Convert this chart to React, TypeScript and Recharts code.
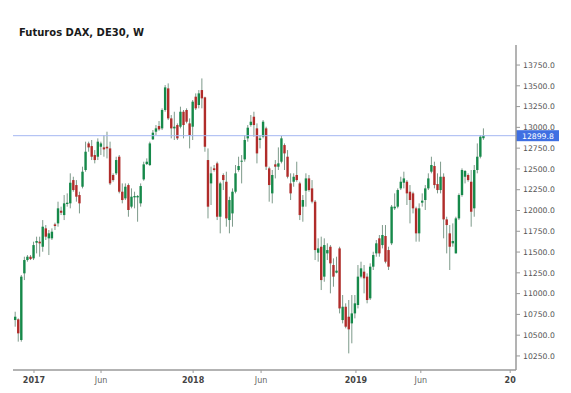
import React from 'react';
import { ComposedChart, Bar, XAxis, YAxis, ReferenceLine } from 'recharts';

// Weekly DAX futures candles (week 1 = mid-Nov 2016)
const opens = [
  10682, 10690, 10442, 11244, 11404, 11444, 11424, 11612, 11625, 11564,
  11785, 11665, 11665, 11833, 11845, 11997, 11945, 12078, 12086, 12366,
  12306, 12186, 12286, 12487, 12807, 12775, 12667, 12647, 12767, 12759,
  12767, 12747, 12427, 12447, 12647, 12226, 12146, 12306, 12046, 12158,
  12158, 12086, 12374, 12559, 12547, 12856, 12948, 13016, 12988, 13209,
  13469, 13108, 12988, 13028, 13008, 13188, 13209, 13048, 13008, 13369,
  13269, 13449, 13361, 12607, 12326, 12507, 12567, 11925, 12427, 12346,
  11885, 11965, 12226, 12487, 12587, 12615, 12868, 13028, 13128, 12988,
  12848, 12888, 12988, 12507, 12206, 12555, 12527, 12587, 12787, 12647,
  12326, 12346, 12427, 12326, 12046, 12238, 12386, 12266, 12106, 11492,
  11564, 11204, 11484, 11564, 11344, 11252, 11544, 10682, 10842, 10722,
  10642, 10762, 10863, 11204, 11264, 11204, 10943, 11324, 11484, 11665,
  11584, 11693, 11524, 11605, 12026, 12046, 12266, 12334, 12346, 12226,
  12206, 12026, 11725, 12094, 12126, 12266, 12467, 12535, 12318, 12246,
  12406, 11893, 11725, 11605, 11484, 11905, 12186, 12406, 12427, 12346,
  12026, 12487, 12647, 12870,
];
const highs = [
  10782, 10702, 11224, 11444, 11464, 11464, 11625, 11685, 11685, 11885,
  11825, 11765, 11785, 11853, 12106, 12046, 12186, 12206, 12447, 12406,
  12366, 12226, 12527, 12828, 12828, 12848, 12727, 12868, 12828, 12908,
  12948, 12828, 12447, 12647, 12667, 12326, 12326, 12326, 12266, 12226,
  12186, 12326, 12587, 12627, 12828, 12968, 13028, 13076, 13229, 13509,
  13529, 13148, 13188, 13048, 13249, 13209, 13229, 13108, 13329, 13409,
  13449, 13589, 13369, 12747, 12527, 12547, 12587, 12346, 12447, 12467,
  12166, 12266, 12547, 12647, 12667, 12908, 13028, 13148, 13188, 13048,
  12908, 13088, 13008, 12527, 12487, 12607, 12759, 12896, 12807, 12727,
  12447, 12447, 12587, 12346, 12186, 12447, 12427, 12366, 12126, 11665,
  11685, 11665, 11605, 11584, 11424, 11444, 11564, 10983, 10883, 10923,
  10983, 10983, 11344, 11384, 11344, 11244, 11364, 11504, 11645, 11705,
  11825, 11825, 11564, 12066, 12206, 12266, 12406, 12467, 12366, 12306,
  12226, 12046, 12086, 12206, 12306, 12447, 12647, 12587, 12447, 12587,
  12447, 11925, 11825, 11845, 11925, 12206, 12507, 12487, 12447, 12487,
  12547, 12807, 12908, 12988,
];
const lows = [
  10602, 10422, 10422, 11163, 11384, 11404, 11404, 11484, 11444, 11504,
  11645, 11464, 11645, 11765, 11805, 11945, 11885, 12046, 12026, 12226,
  12106, 11965, 12266, 12467, 12707, 12607, 12567, 12607, 12667, 12647,
  12627, 12306, 12346, 12427, 12206, 12086, 12126, 11925, 12026, 12026,
  11865, 12046, 12358, 12547, 12535, 12848, 12908, 12960, 12968, 13188,
  13088, 12868, 12848, 12848, 12988, 12868, 13048, 12747, 12848, 13209,
  13229, 13229, 12707, 11905, 12066, 12467, 11885, 11725, 12246, 11805,
  11725, 11805, 12206, 12467, 12326, 12587, 12828, 13008, 12888, 12567,
  12747, 12868, 12487, 12106, 12086, 12386, 12487, 12567, 12487, 12386,
  12126, 12286, 12346, 11885, 11865, 12046, 12226, 12086, 11404, 11384,
  11043, 11143, 11404, 11003, 11083, 11244, 10762, 10642, 10582, 10281,
  10402, 10702, 10822, 11184, 11003, 10883, 10923, 11284, 11444, 11444,
  11544, 11364, 11284, 11584, 12006, 12026, 12246, 12266, 12066, 11845,
  11965, 11625, 11625, 12046, 12006, 12246, 12447, 12266, 12206, 12206,
  11665, 11484, 11284, 11564, 11484, 11885, 12166, 12326, 12346, 11805,
  11925, 12447, 12627, 12850,
];
const closes = [
  10722, 10522, 11204, 11404, 11444, 11416, 11584, 11633, 11605, 11805,
  11685, 11725, 11745, 11813, 12026, 11973, 12086, 12094, 12334, 12246,
  12166, 12086, 12467, 12707, 12759, 12647, 12607, 12828, 12807, 12735,
  12747, 12326, 12366, 12607, 12226, 12126, 12286, 12006, 12166, 12174,
  12174, 12294, 12555, 12587, 12807, 12936, 12988, 12976, 13209, 13481,
  13108, 12988, 13008, 12868, 13188, 13028, 13068, 12908, 13309, 13229,
  13409, 13349, 12767, 12046, 12447, 12487, 11925, 12326, 12366, 11905,
  12126, 12226, 12447, 12535, 12599, 12848, 12996, 13068, 13028, 12687,
  12868, 13068, 12527, 12306, 12427, 12527, 12567, 12868, 12687, 12406,
  12206, 12406, 12366, 11945, 12126, 12386, 12246, 12106, 11524, 11544,
  11163, 11584, 11524, 11364, 11204, 11276, 10822, 10842, 10602, 10570,
  10762, 10883, 11204, 11304, 11184, 10923, 11324, 11464, 11605, 11484,
  11705, 11384, 11324, 12046, 12046, 12246, 12346, 12386, 12206, 12126,
  12026, 11725, 12026, 12118, 12266, 12386, 12547, 12306, 12246, 12406,
  11893, 11825, 11564, 11633, 11905, 12186, 12487, 12475, 12366, 11985,
  12487, 12647, 12888, 12899.8,
];

const lastPrice = 12899.8;
const priceTicks = [10250, 10500, 10750, 11000, 11250, 11500, 11750, 12000, 12250, 12500, 12750, 13000, 13250, 13500, 13750];
const tickWeeks = [7.3, 29.2, 59.3, 81.5, 112.5, 133.7, 162.9];
const tickLabels = ['2017', 'Jun', '2018', 'Jun', '2019', 'Jun', '20'];

const data = opens.map((o, i) => ({
  w: i + 1,
  o,
  h: highs[i],
  l: lows[i],
  c: closes[i],
  range: [lows[i], highs[i]],
}));

const GREEN = '#16894a';
const RED = '#b02c2a';
const WICK = '#7d9a8a';

const Candle = (props: any) => {
  const { x, y, width, height, payload } = props;
  if (!payload || x == null || y == null) return null;
  const top = Math.min(y, y + height);
  const bot = Math.max(y, y + height);
  const { o, h, l, c } = payload;
  const ppv = h > l ? (bot - top) / (h - l) : 0;
  const yOf = (v: number) => top + (h - v) * ppv;
  const cx = x + width / 2;
  const up = c >= o;
  const yb1 = yOf(Math.max(o, c));
  const yb2 = yOf(Math.min(o, c));
  const bh = Math.max(yb2 - yb1, 1);
  return (
    <g>
      <line x1={cx} x2={cx} y1={top} y2={bot} stroke={WICK} strokeWidth={1} />
      <rect x={cx - 1.2} y={yb1} width={2.4} height={bh} fill={up ? GREEN : RED} />
    </g>
  );
};

const XTick = (props: any) => {
  const { x, y, payload } = props;
  let idx = 0;
  let best = Infinity;
  tickWeeks.forEach((t, i) => {
    const d = Math.abs(t - payload.value);
    if (d < best) {
      best = d;
      idx = i;
    }
  });
  const label = tickLabels[idx];
  const isYear = label !== 'Jun';
  return (
    <text
      x={x}
      y={y}
      dy={8}
      textAnchor="middle"
      fontSize={8}
      fontWeight={isYear ? 'bold' : 'normal'}
      fill={isYear ? '#444' : '#666'}
      fontFamily="DejaVu Sans, sans-serif"
    >
      {label}
    </text>
  );
};

const PriceTag = (props: any) => {
  const vb = props.viewBox || {};
  const x0 = (vb.x ?? 0) + (vb.width ?? 0);
  const yc = vb.y ?? 0;
  return (
    <g>
      <rect x={x0} y={yc - 5.5} width={43} height={11} fill="#3f6fe2" />
      <text
        x={x0 + 6}
        y={yc + 3}
        fontSize={7.7}
        fill="#ffffff"
        fontFamily="DejaVu Sans, sans-serif"
      >
        {lastPrice.toFixed(1)}
      </text>
    </g>
  );
};

export default function App() {
  return (
    <div style={{ position: 'absolute', left: 0, top: 0, width: 571, height: 393, background: '#fff' }}>
      <div
        style={{
          position: 'absolute',
          left: 19,
          top: 27,
          fontFamily: '"DejaVu Sans", sans-serif',
          fontWeight: 'bold',
          fontSize: 10,
          lineHeight: '12px',
          color: '#1a1a1a',
          whiteSpace: 'nowrap',
          zIndex: 2,
        }}
      >
        Futuros DAX, DE30, W
      </div>
      <ComposedChart
        width={571}
        height={393}
        data={data}
        margin={{ top: 45, right: 0, bottom: 0, left: 13 }}
      >
        <XAxis
          dataKey="w"
          type="number"
          domain={[0.44, 164.8]}
          allowDataOverflow
          ticks={tickWeeks}
          tick={<XTick />}
          tickSize={3}
          tickMargin={2}
          height={23}
          axisLine={{ stroke: '#9a9a9a', strokeWidth: 1.5 }}
          tickLine={{ stroke: '#9a9a9a' }}
          interval={0}
        />
        <YAxis
          orientation="right"
          type="number"
          domain={[10081, 13991]}
          allowDataOverflow
          ticks={priceTicks}
          tickFormatter={(v: number) => v.toFixed(1)}
          width={55}
          tickSize={4}
          tickMargin={3}
          interval={0}
          axisLine={{ stroke: '#9a9a9a', strokeWidth: 1.5 }}
          tickLine={{ stroke: '#9a9a9a' }}
          tick={{ fontSize: 7.7, fill: '#555', fontFamily: 'DejaVu Sans, sans-serif' }}
        />
        <ReferenceLine
          y={lastPrice}
          stroke="#a4b7f2"
          strokeWidth={1}
          label={<PriceTag />}
          ifOverflow="extendDomain"
        />
        <Bar dataKey="range" barSize={2} shape={<Candle />} isAnimationActive={false} />
      </ComposedChart>
    </div>
  );
}
